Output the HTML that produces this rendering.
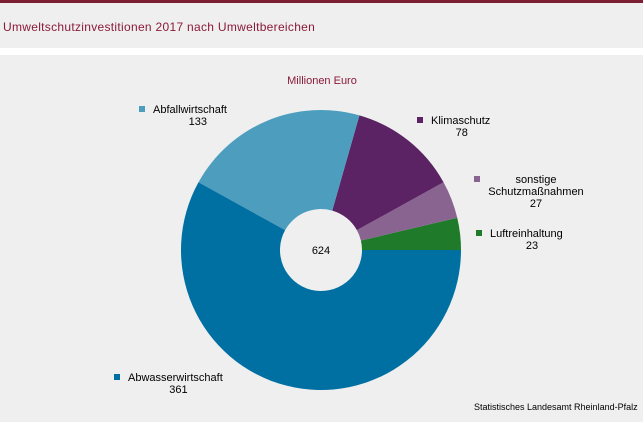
<!DOCTYPE html>
<html><head><meta charset="utf-8"><style>
body{margin:0;width:643px;height:422px;overflow:hidden;background:#fff;font-family:"Liberation Sans",sans-serif}
#top{position:absolute;left:0;top:0;width:643px;height:3px;background:#7d1f33}
#hdr{position:absolute;left:0;top:3px;width:643px;height:45px;background:#eeefee}
#title{position:absolute;left:3px;top:17px;font-size:12px;color:#8b1a3a;letter-spacing:0.3px}
#panel{position:absolute;left:0;top:55px;width:643px;height:367px;background:#eeefee}
</style></head><body>
<div id="top"></div>
<div id="hdr"><div id="title">Umweltschutzinvestitionen 2017 nach Umweltbereichen</div></div>
<div id="panel"></div>
<svg id="chart" width="643" height="422" style="position:absolute;left:0;top:0" font-family="Liberation Sans, sans-serif">
<text x="322" y="84" font-size="11" fill="#8b1a3a" text-anchor="middle">Millionen Euro</text>
<text x="322" y="410" font-size="9" fill="#000" text-anchor="start" x2="" transform="translate(152,0)">Statistisches Landesamt Rheinland-Pfalz</text>
</svg>
<script>
const categories=["Luftreinhaltung","sonstige Schutzmaßnahmen","Klimaschutz","Abfallwirtschaft","Abwasserwirtschaft"];
const values=[23,27,78,133,361];
const colors=["#1f7a2a","#8a6490","#5b2363","#4d9dbf","#0070a3"];
const totalLabel="624";
const svg=document.getElementById('chart');
const NS="http://www.w3.org/2000/svg";
const cx=321,cy=250,R=140,r=41;
const total=values.reduce((a,b)=>a+b,0);
function pt(a,rad){return [cx+rad*Math.cos(a),cy-rad*Math.sin(a)];}
let a0=0;
const labelPos=[[482,237,"start"],[480,183,"start"],[423,124,"start"],[145,113,"start"],[120,381,"start"]];
values.forEach((v,i)=>{
 const a1=a0+v/total*2*Math.PI;
 const [x0,y0]=pt(a0,R),[x1,y1]=pt(a1,R),[x2,y2]=pt(a1,r),[x3,y3]=pt(a0,r);
 const lg=(a1-a0)>Math.PI?1:0;
 const p=document.createElementNS(NS,'path');
 p.setAttribute('d',`M${x0},${y0}A${R},${R} 0 ${lg} 0 ${x1},${y1}L${x2},${y2}A${r},${r} 0 ${lg} 1 ${x3},${y3}Z`);
 p.setAttribute('fill',colors[i]);
 
 
 svg.appendChild(p);
 a0=a1;
});
const c=document.createElementNS(NS,'text');
c.setAttribute('x',cx);c.setAttribute('y',cy+4);c.setAttribute('font-size','11');c.setAttribute('text-anchor','middle');
c.textContent=totalLabel;


svg.appendChild(c);
const nameLines=[["Luftreinhaltung"],["sonstige","Schutzmaßnahmen"],["Klimaschutz"],["Abfallwirtschaft"],["Abwasserwirtschaft"]];
values.forEach((v,i)=>{
 const [lx,ly]=labelPos[i];
 const g=document.createElementNS(NS,'g');
 
 
 const sq=document.createElementNS(NS,'rect');
 sq.setAttribute('x',lx-6);sq.setAttribute('y',ly-7);sq.setAttribute('width',6);sq.setAttribute('height',6);sq.setAttribute('fill',colors[i]);
 g.appendChild(sq);
 const lines=nameLines[i];
 const midx=lx+8+(i===1?40:lines[0].length*2.8);
 lines.forEach((t,k)=>{
  const tx=document.createElementNS(NS,'text');
  if(i===1){tx.setAttribute('x',lx+56);tx.setAttribute('text-anchor','middle');}
  else{tx.setAttribute('x',lx+8);}
  tx.setAttribute('y',ly+k*12);tx.setAttribute('font-size','11');
  tx.textContent=t;g.appendChild(tx);
 });
 const vt=document.createElementNS(NS,'text');
 vt.setAttribute('x',i===1?lx+56:midx);vt.setAttribute('y',ly+lines.length*12);
 vt.setAttribute('font-size','11');vt.setAttribute('text-anchor','middle');
 vt.textContent=v;g.appendChild(vt);
 svg.appendChild(g);
});
</script>
</body></html>
